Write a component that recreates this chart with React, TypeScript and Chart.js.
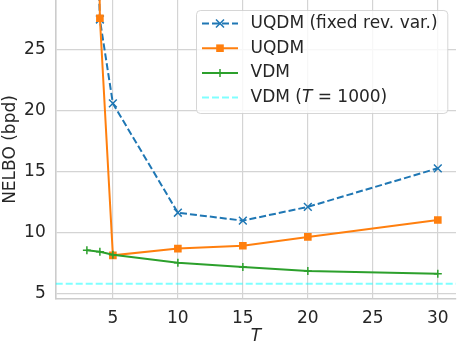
import { useEffect, useRef } from 'react';
import { Chart, registerables } from 'chart.js';

Chart.register(...registerables);

// ---- data ----
const uqdmFixedT = [3, 4, 5, 10, 15, 20, 30];
const uqdmFixed = [60, 27.5, 20.6, 11.62, 10.97, 12.1, 15.27];
const uqdmT = [3, 4, 5, 10, 15, 20, 30];
const uqdm = [120, 27.6, 8.12, 8.67, 8.91, 9.63, 11.02];
const vdmT = [3, 4, 5, 10, 15, 20, 30];
const vdm = [8.53, 8.42, 8.17, 7.51, 7.16, 6.83, 6.61];
const vdm1000 = 5.79;

const xTicks = [5, 10, 15, 20, 25, 30];
const yTicks = [5, 10, 15, 20, 25];
const xLimits = [0.6, 31.4];
const yLimits = [4.53, 29.1];

const seriesLabels = ['UQDM (fixed rev. var.)', 'UQDM', 'VDM', 'VDM (T = 1000)'];
const xTitle = 'T';
const yTitle = 'NELBO (bpd)';

const BLUE = '#1f77b4';
const ORANGE = '#ff7f0e';
const GREEN = '#2ca02c';
const CYAN = 'rgba(0,255,255,0.5)';
const FONT = '"DejaVu Sans", sans-serif';
const FS = 17;
const TEXT = '#262626';

const pts = (xs: number[], ys: number[]) => xs.map((x, i) => ({ x, y: ys[i] }));

type Handle = { color: string; dash: number[]; marker: string | null };
const handles: Handle[] = [
  { color: BLUE, dash: [7, 3], marker: 'crossRot' },
  { color: ORANGE, dash: [], marker: 'rect' },
  { color: GREEN, dash: [], marker: 'cross' },
  { color: CYAN, dash: [7, 3], marker: null },
];

function drawMarker(ctx: CanvasRenderingContext2D, kind: string, x: number, y: number, color: string) {
  ctx.save();
  ctx.setLineDash([]);
  ctx.strokeStyle = color;
  ctx.fillStyle = color;
  ctx.lineWidth = 1.5;
  if (kind === 'rect') {
    ctx.fillRect(x - 3.8, y - 3.8, 7.6, 7.6);
  } else if (kind === 'cross') {
    ctx.beginPath();
    ctx.moveTo(x - 4, y); ctx.lineTo(x + 4, y);
    ctx.moveTo(x, y - 4); ctx.lineTo(x, y + 4);
    ctx.stroke();
  } else if (kind === 'crossRot') {
    ctx.beginPath();
    ctx.moveTo(x - 4, y - 4); ctx.lineTo(x + 4, y + 4);
    ctx.moveTo(x - 4, y + 4); ctx.lineTo(x + 4, y - 4);
    ctx.stroke();
  }
  ctx.restore();
}

function drawLabel(ctx: CanvasRenderingContext2D, label: string, x: number, y: number) {
  // italicise the single math symbol T in "(T = ...)"
  const m = label.match(/^(.*\()T( = .*)$/);
  ctx.fillStyle = TEXT;
  ctx.textBaseline = 'middle';
  ctx.textAlign = 'left';
  ctx.font = `${FS}px ${FONT}`;
  if (!m) {
    ctx.fillText(label, x, y);
    return;
  }
  ctx.fillText(m[1], x, y);
  let cx = x + ctx.measureText(m[1]).width;
  ctx.font = `italic ${FS}px ${FONT}`;
  ctx.fillText('T', cx, y);
  cx += ctx.measureText('T').width;
  ctx.font = `${FS}px ${FONT}`;
  ctx.fillText(m[2], cx, y);
}

const legendPlugin = {
  id: 'mplLegend',
  afterDraw(chart: any) {
    const ctx: CanvasRenderingContext2D = chart.ctx;
    const bx0 = 196, by0 = 10, bx1 = 447.3, by1 = 113;
    ctx.save();
    ctx.beginPath();
    (ctx as any).roundRect(bx0 + 0.5, by0 + 0.5, bx1 - bx0, by1 - by0, 4);
    ctx.fillStyle = 'rgba(255,255,255,0.8)';
    ctx.fill();
    ctx.strokeStyle = 'rgba(204,204,204,0.8)';
    ctx.lineWidth = 1;
    ctx.stroke();
    const rowY0 = 23.5, rowStep = 24.7;
    seriesLabels.forEach((lab, i) => {
      const y = rowY0 + i * rowStep;
      const h = handles[i];
      ctx.save();
      ctx.strokeStyle = h.color;
      ctx.lineWidth = 2;
      ctx.setLineDash(h.dash);
      ctx.beginPath();
      ctx.moveTo(202, y);
      ctx.lineTo(238, y);
      ctx.stroke();
      ctx.restore();
      if (h.marker) drawMarker(ctx, h.marker, 220, y, h.color);
      drawLabel(ctx, lab, 250.5, y);
    });
    ctx.restore();
  },
};

const zeroPad = (s: any) => {
  s.paddingTop = 0;
  s.paddingBottom = 0;
  s.paddingLeft = 0;
  s.paddingRight = 0;
};

export default function App() {
  const ref = useRef<HTMLCanvasElement | null>(null);
  useEffect(() => {
    if (!ref.current) return;
    const chart = new Chart(ref.current, {
      type: 'line',
      data: {
        datasets: [
          {
            label: seriesLabels[3],
            data: [{ x: xLimits[0], y: vdm1000 }, { x: xLimits[1], y: vdm1000 }],
            borderColor: CYAN,
            borderWidth: 2,
            borderDash: [7, 3],
            pointRadius: 0,
            fill: false,
          },
          {
            label: seriesLabels[2],
            data: pts(vdmT, vdm),
            borderColor: GREEN,
            borderWidth: 2,
            pointStyle: 'cross',
            pointRadius: 4,
            pointBorderWidth: 1.5,
            pointBorderColor: GREEN,
            pointBackgroundColor: GREEN,
            fill: false,
          },
          {
            label: seriesLabels[1],
            data: pts(uqdmT, uqdm),
            borderColor: ORANGE,
            borderWidth: 2,
            pointStyle: 'rect',
            pointRadius: 5.4,
            pointBorderWidth: 0,
            pointBackgroundColor: ORANGE,
            fill: false,
          },
          {
            label: seriesLabels[0],
            data: pts(uqdmFixedT, uqdmFixed),
            borderColor: BLUE,
            borderWidth: 2,
            borderDash: [7, 3],
            pointStyle: 'crossRot',
            pointRadius: 5.5,
            pointBorderWidth: 1.5,
            pointBorderColor: BLUE,
            fill: false,
          },
        ],
      },
      options: {
        responsive: false,
        animation: false,
        devicePixelRatio: 1,
        layout: { autoPadding: false, padding: { top: 0, right: 1, left: 0, bottom: 0 } },
        plugins: { legend: { display: false }, tooltip: { enabled: false } },
        scales: {
          x: {
            type: 'linear',
            min: xLimits[0],
            max: xLimits[1],
            afterBuildTicks: (s: any) => { s.ticks = xTicks.map((v) => ({ value: v })); },
            afterFit: (s: any) => { s.height = 46; zeroPad(s); },
            grid: { color: '#d4d4d4', lineWidth: 1.2, drawTicks: false },
            border: { color: '#cccccc', width: 1.6 },
            ticks: { color: TEXT, font: { family: FONT, size: FS }, padding: 9, maxRotation: 0 },
            title: {
              display: true,
              text: xTitle,
              color: TEXT,
              font: { family: FONT, size: FS, style: 'italic' },
              padding: { top: 0, bottom: -2 },
            },
          },
          y: {
            type: 'linear',
            min: yLimits[0],
            max: yLimits[1],
            afterBuildTicks: (s: any) => { s.ticks = yTicks.map((v) => ({ value: v })); },
            afterFit: (s: any) => { s.width = 55.7; zeroPad(s); },
            grid: { color: '#d4d4d4', lineWidth: 1.2, drawTicks: false },
            border: { color: '#cccccc', width: 1.6 },
            ticks: { color: TEXT, font: { family: FONT, size: FS }, padding: 10 },
            title: {
              display: true,
              text: yTitle,
              color: TEXT,
              font: { family: FONT, size: FS },
              padding: { top: 0, bottom: 0 },
            },
          },
        },
      },
      plugins: [legendPlugin],
    } as any);
    return () => chart.destroy();
  }, []);
  return (
    <div style={{ position: 'absolute', left: 0, top: 0, width: 457, height: 345, background: '#fff' }}>
      <canvas ref={ref} width={457} height={345} style={{ display: 'block' }} />
    </div>
  );
}
